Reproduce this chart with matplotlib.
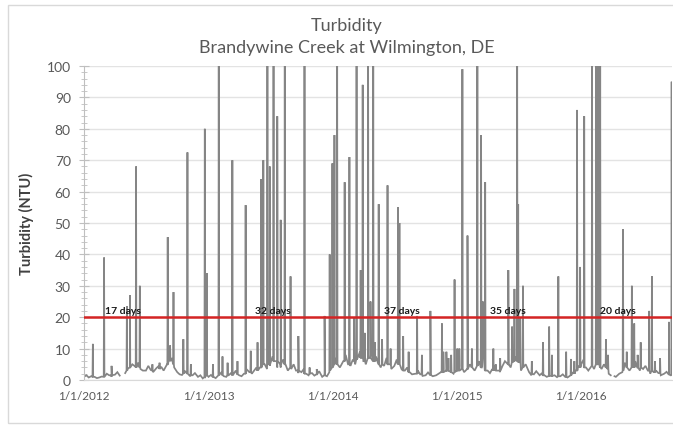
import matplotlib
matplotlib.use("Agg")
import matplotlib.pyplot as plt
from matplotlib.patches import Rectangle
from matplotlib.ticker import MultipleLocator
import numpy as np
import datetime as dt

# ---------------- data ----------------
base_dates = [
    "2012-01-01", "2012-01-15", "2012-02-01", "2012-02-15", "2012-03-01", "2012-03-15",
    "2012-04-01", "2012-04-15", "2012-04-22", "2012-05-01", "2012-05-15", "2012-06-01",
    "2012-06-15", "2012-07-01", "2012-07-15", "2012-08-01", "2012-08-15", "2012-09-01",
    "2012-09-15", "2012-10-01", "2012-10-15", "2012-11-01", "2012-11-15", "2012-12-01",
    "2012-12-15",
    "2013-01-01", "2013-01-15", "2013-02-01", "2013-02-15", "2013-03-01", "2013-03-15",
    "2013-04-01", "2013-04-15", "2013-05-01", "2013-05-15", "2013-06-01", "2013-06-15",
    "2013-07-01", "2013-07-15", "2013-08-01", "2013-08-15", "2013-09-01", "2013-09-15",
    "2013-10-01", "2013-10-15", "2013-11-01", "2013-11-15", "2013-12-01", "2013-12-15",
    "2014-01-01", "2014-01-15", "2014-02-01", "2014-02-15", "2014-03-01", "2014-03-15",
    "2014-04-01", "2014-04-15", "2014-05-01", "2014-05-15", "2014-06-01", "2014-06-15",
    "2014-07-01", "2014-07-15", "2014-08-01", "2014-08-15", "2014-09-01", "2014-09-15",
    "2014-10-01", "2014-10-15", "2014-11-01", "2014-11-15", "2014-12-01", "2014-12-15",
    "2015-01-01", "2015-01-15", "2015-02-01", "2015-02-15", "2015-03-01", "2015-03-15",
    "2015-04-01", "2015-04-15", "2015-05-01", "2015-05-15", "2015-06-01", "2015-06-15",
    "2015-07-01", "2015-07-15", "2015-08-01", "2015-08-15", "2015-09-01", "2015-09-15",
    "2015-10-01", "2015-10-15", "2015-11-01", "2015-11-15", "2015-12-01", "2015-12-15",
    "2016-01-01", "2016-01-15", "2016-02-01", "2016-02-15", "2016-03-01", "2016-03-15",
    "2016-03-28", "2016-04-05", "2016-04-12", "2016-05-01", "2016-05-15", "2016-06-01",
    "2016-06-15", "2016-07-01", "2016-07-15", "2016-08-01", "2016-08-15", "2016-09-01",
    "2016-09-15", "2016-09-24",
]
base_values = [
    1.0, 0.8, 1.0, 0.8, 1.2, 1.5,
    1.7, 1.4, np.nan, 2.2, 4.0, 4.2,
    3.5, 3.0, 3.2, 3.8, 4.2, 5.0,
    7.0, 2.5, 1.6, 2.0, 1.5, 1.0,
    0.5,
    1.0, 0.8, 1.5, 1.2, 1.5, 1.8,
    1.5, 2.0, 2.5, 3.0, 4.0, 5.0,
    4.5, 6.0, 4.0, 5.0, 3.5, 3.0,
    2.5, 2.0, 2.2, 1.8, 1.0, 1.2,
    4.0, 5.0, 6.0, 5.0, 6.5, 7.0,
    6.0, 7.0, 6.0, 5.0, 4.5, 5.0,
    4.5, 5.5, 3.0, 2.5, 2.0, 1.8,
    1.5, 1.6, 1.5, 2.5, 3.0, 2.5,
    3.0, 3.5, 3.5, 4.0, 4.5, 4.0,
    3.0, 3.5, 3.0, 4.5, 5.0, 6.0,
    5.5, 4.0, 2.5, 1.8, 1.5, 1.5,
    1.3, 1.5, 1.2, 1.0, 1.5, 3.0,
    5.0, 4.0, 4.5, 5.0, 3.5, 4.0,
    1.5, np.nan, 1.0, 2.5, 4.0, 4.5,
    4.0, 3.5, 3.0, 2.5, 2.2, 2.0,
    1.8, 2.0,
]

# in-between baseline readings (8th and 22nd of the month)
mid_dates = [
    "2012-01-08", "2012-01-22", "2012-02-08", "2012-02-22", "2012-03-08", "2012-03-22",
    "2012-04-08", "2012-05-08", "2012-05-22", "2012-06-08", "2012-06-22",
    "2012-07-08", "2012-07-22", "2012-08-08", "2012-08-22", "2012-09-08", "2012-09-22",
    "2012-10-08", "2012-10-22", "2012-11-08", "2012-11-22", "2012-12-08", "2012-12-22",
    "2013-01-08", "2013-01-22", "2013-02-08", "2013-02-22", "2013-03-08", "2013-03-22",
    "2013-04-08", "2013-04-22", "2013-05-08", "2013-05-22", "2013-06-08", "2013-06-22",
    "2013-07-08", "2013-07-22", "2013-08-08", "2013-08-22", "2013-09-08", "2013-09-22",
    "2013-10-08", "2013-10-22", "2013-11-08", "2013-11-22", "2013-12-08", "2013-12-22",
    "2014-01-08", "2014-01-22", "2014-02-08", "2014-02-22", "2014-03-08", "2014-03-22",
    "2014-04-08", "2014-04-22", "2014-05-08", "2014-05-22", "2014-06-08", "2014-06-22",
    "2014-07-08", "2014-07-22", "2014-08-08", "2014-08-22", "2014-09-08", "2014-09-22",
    "2014-10-08", "2014-10-22", "2014-11-08", "2014-11-22", "2014-12-08", "2014-12-22",
    "2015-01-08", "2015-01-22", "2015-02-08", "2015-02-22", "2015-03-08", "2015-03-22",
    "2015-04-08", "2015-04-22", "2015-05-08", "2015-05-22", "2015-06-08", "2015-06-22",
    "2015-07-08", "2015-07-22", "2015-08-08", "2015-08-22", "2015-09-08", "2015-09-22",
    "2015-10-08", "2015-10-22", "2015-11-08", "2015-11-22", "2015-12-08", "2015-12-22",
    "2016-01-08", "2016-01-22", "2016-02-08", "2016-02-22", "2016-03-08", "2016-03-22",
    "2016-04-08", "2016-04-22", "2016-05-08", "2016-05-22", "2016-06-08", "2016-06-22",
    "2016-07-08", "2016-07-22", "2016-08-08", "2016-08-22", "2016-09-08", "2016-09-22",
]
mid_values = [
    1.5, 1.2, 0.6, 1.1, 2.0, 1.0,
    2.5, 3.5, 5.0, 5.5, 3.0,
    4.5, 2.5, 4.5, 3.0, 8.0, 4.0,
    1.8, 3.0, 1.2, 2.2, 1.5, 0.6,
    1.6, 0.6, 2.5, 1.0, 2.2, 3.0,
    1.2, 3.5, 2.0, 4.0, 6.0, 3.5,
    7.5, 4.0, 6.5, 3.0, 5.0, 2.2,
    3.5, 1.5, 1.4, 2.8, 2.0, 2.5,
    7.0, 4.0, 8.0, 4.5, 5.0, 9.0,
    5.0, 8.0, 7.5, 4.0, 7.0, 3.5,
    6.5, 3.5, 4.0, 1.8, 3.0, 1.3,
    2.4, 1.2, 2.0, 3.5, 4.0, 2.0,
    4.5, 2.5, 5.0, 3.0, 6.0, 5.5,
    2.2, 4.5, 2.5, 6.0, 4.0, 7.5,
    3.0, 5.0, 1.5, 2.8, 2.2, 1.0,
    2.0, 0.9, 1.8, 0.8, 2.5, 4.5,
    6.5, 3.0, 3.5, 6.0, 5.0, 2.0,
    1.2, 2.0, 5.5, 3.0, 6.0, 3.0,
    4.5, 2.0, 3.0, 1.5, 2.6, 1.4,
]

spike_dates = [
    "2012-01-27", "2012-02-29", "2012-03-22", "2012-05-06", "2012-05-15", "2012-06-02",
    "2012-06-13", "2012-07-20", "2012-08-10", "2012-09-03", "2012-09-10", "2012-09-20",
    "2012-10-19", "2012-10-31", "2012-11-10", "2012-12-21", "2012-12-27",
    "2013-01-14", "2013-01-31", "2013-02-11", "2013-02-26", "2013-03-12", "2013-03-27",
    "2013-04-20", "2013-05-05", "2013-05-25", "2013-06-05", "2013-06-11", "2013-06-23",
    "2013-06-30", "2013-07-11", "2013-07-22", "2013-08-01", "2013-08-13", "2013-08-30",
    "2013-09-22", "2013-10-10", "2013-10-25", "2013-11-15", "2013-12-08", "2013-12-23",
    "2013-12-31",
    "2014-01-06", "2014-01-14", "2014-02-05", "2014-02-19", "2014-03-05", "2014-03-12",
    "2014-03-24", "2014-03-30", "2014-04-05", "2014-04-15", "2014-04-22", "2014-04-30",
    "2014-05-05", "2014-05-16", "2014-05-26", "2014-06-11", "2014-06-20", "2014-07-12",
    "2014-07-16", "2014-07-27", "2014-08-12", "2014-09-06", "2014-09-20", "2014-10-15",
    "2014-11-18", "2014-11-22", "2014-12-01", "2014-12-07", "2014-12-15", "2014-12-25",
    "2015-01-02", "2015-01-08", "2015-01-17", "2015-02-01", "2015-02-14", "2015-03-02",
    "2015-03-13", "2015-03-18", "2015-03-25", "2015-04-18", "2015-04-25", "2015-05-08",
    "2015-06-01", "2015-06-12", "2015-06-19", "2015-06-27", "2015-06-30", "2015-07-06",
    "2015-07-14", "2015-08-09", "2015-09-11", "2015-09-29", "2015-10-07", "2015-10-26",
    "2015-11-18", "2015-12-02", "2015-12-12", "2015-12-20", "2015-12-29",
    "2016-01-10", "2016-02-02", "2016-02-14", "2016-02-20", "2016-02-26", "2016-03-14",
    "2016-03-20", "2016-05-03", "2016-05-14", "2016-05-29", "2016-06-05", "2016-06-15",
    "2016-06-24", "2016-07-19", "2016-07-27", "2016-08-05", "2016-08-20", "2016-09-15",
    "2016-09-23",
]
spike_peaks = [
    11.5, 39, 4.5, 23.5, 27, 68,
    30, 5, 5.5, 45.5, 11, 28,
    13, 72.5, 5, 80, 34,
    5, 100, 7.5, 5.5, 70, 6,
    55.7, 9.3, 12, 64, 70, 100,
    68, 100, 84, 51, 100, 33,
    14, 100, 4, 3.5, 20.4, 40,
    69,
    78, 100, 63, 71, 20, 100,
    35, 94, 15, 100, 25, 100,
    12, 56, 13, 62, 10, 55,
    50, 14, 9, 20.4, 8, 22,
    18, 9, 9, 7, 8, 32,
    10, 10, 99, 46, 10, 100,
    78, 25, 63, 10, 5, 7,
    35, 17, 29, 100, 56, 20,
    30, 6, 12, 17, 8, 33,
    9, 6.7, 6, 86, 36,
    84, 100, 100, 100, 100, 13,
    8, 48, 9, 30, 18, 8,
    12, 22, 33, 6, 7, 18.5,
    95,
]
spike_bases = [
    1.0, 1.0, 1.5, 3.0, 4.0, 4.0,
    4.0, 3.0, 3.5, 5.0, 6.0, 5.0,
    2.0, 2.0, 1.5, 1.0, 1.5,
    1.0, 1.5, 1.5, 1.5, 1.5, 1.8,
    2.0, 2.5, 3.0, 4.0, 5.0, 5.0,
    5.0, 6.0, 6.0, 5.0, 5.0, 4.0,
    3.0, 2.0, 2.0, 1.8, 1.5, 3.0,
    4.0,
    5.0, 5.0, 6.0, 5.0, 6.0, 6.5,
    7.0, 7.0, 6.0, 7.0, 7.0, 6.0,
    6.0, 5.0, 5.0, 5.0, 5.0, 5.0,
    5.0, 3.0, 2.5, 2.0, 1.8, 1.6,
    2.5, 2.5, 3.0, 3.0, 2.5, 2.5,
    3.0, 3.0, 3.5, 3.5, 4.0, 4.5,
    4.0, 10.0, 3.0, 3.0, 3.0, 3.0,
    5.0, 5.5, 6.0, 6.0, 6.0, 5.5,
    4.0, 2.0, 1.5, 1.3, 1.3, 1.2,
    1.0, 1.5, 2.0, 3.0, 4.0,
    4.0, 4.5, 5.0, 5.0, 4.0, 4.0,
    3.5, 3.0, 4.0, 4.0, 4.0, 4.0,
    4.0, 3.0, 3.0, 2.5, 2.2, 1.8,
    2.0,
]

threshold = 20
label_dates = ["2012-03-03", "2013-05-18", "2014-06-01", "2015-04-08", "2016-02-26"]
label_texts = ["17 days", "32 days", "37 days", "35 days", "20 days"]
xtick_dates = ["2012-01-01", "2013-01-01", "2014-01-01", "2015-01-01", "2016-01-01"]
xtick_labels = ["1/1/2012", "1/1/2013", "1/1/2014", "1/1/2015", "1/1/2016"]

# ---------------- build the single series ----------------
to_d = lambda s: dt.datetime.strptime(s, "%Y-%m-%d")
pts = [(to_d(d), v) for d, v in zip(base_dates, base_values)]
pts += [(to_d(d), v) for d, v in zip(mid_dates, mid_values)]
one = dt.timedelta(days=1)
for d, p, b in zip(spike_dates, spike_peaks, spike_bases):
    dd = to_d(d)
    pts += [(dd - one, b), (dd, p), (dd + one, b)]
pts.sort(key=lambda t: t[0])
xs = [t[0] for t in pts]
ys = [t[1] for t in pts]

# ---------------- figure ----------------
plt.rcParams['font.family'] = ['Lato', 'DejaVu Sans']
fig = plt.figure(figsize=(6.73, 4.27), dpi=100)
fig.patch.set_facecolor("white")
fig.patches.append(Rectangle((8 / 673, 1 - 424 / 427), 1.2, (424 - 6) / 427,
                             transform=fig.transFigure, fill=False,
                             edgecolor="#d9d9d9", linewidth=1.0))

ax = fig.add_axes([84 / 673, 1 - 381 / 427, (672 - 84) / 673, (381 - 67) / 427])
ax.set_facecolor("none")

ax.plot(xs, ys, color="#858585", linewidth=1.25, solid_joinstyle="miter", zorder=2)
ax.axhline(threshold, color="#d42424", linewidth=1.8, zorder=3)

for d, t in zip(label_dates, label_texts):
    ax.text(to_d(d), threshold + 0.7, t, fontsize=7.5, fontweight="bold",
            color="#1a1a1a", ha="left", va="bottom", zorder=4)

ax.set_ylim(0, 100)
ax.set_xlim(to_d("2012-01-01"), to_d("2016-09-24"))
ax.yaxis.set_major_locator(MultipleLocator(10))
ax.yaxis.set_minor_locator(MultipleLocator(2))
ax.grid(axis="y", which="major", color="#e3e3e3", linewidth=1.0, zorder=0)
ax.set_axisbelow(True)

ax.set_xticks([to_d(d) for d in xtick_dates])
ax.set_xticklabels(xtick_labels)

for s in ["top", "right"]:
    ax.spines[s].set_visible(False)
ax.spines["bottom"].set_color("#d9d9d9")
ax.spines["left"].set_color("#bfbfbf")
ax.tick_params(axis="x", length=0, pad=7, labelsize=8.5, labelcolor="#595959")
ax.tick_params(axis="y", which="major", direction="inout", length=7, color="#bfbfbf",
               labelsize=10, labelcolor="#595959", pad=6)
ax.tick_params(axis="y", which="minor", direction="inout", length=4, color="#bfbfbf")

ax.set_ylabel("Turbidity (NTU)", fontsize=10.5, fontweight="bold", color="#404040",
              labelpad=9)

fig.text(347 / 673, 1 - 26 / 427, "Turbidity", ha="center", va="center",
         fontsize=13, color="#595959")
fig.text(347 / 673, 1 - 48 / 427, "Brandywine Creek at Wilmington, DE", ha="center",
         va="center", fontsize=13, color="#595959")

fig.savefig("out.png", dpi=100)
